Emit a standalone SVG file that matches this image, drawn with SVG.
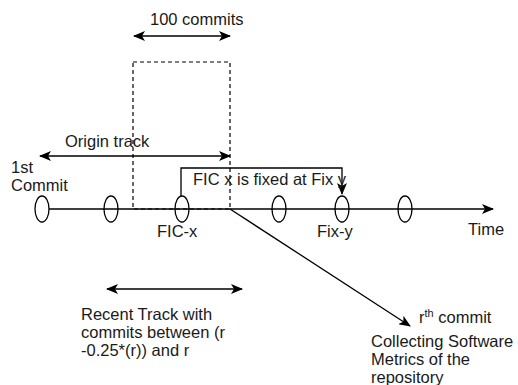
<svg xmlns="http://www.w3.org/2000/svg" width="518" height="385" viewBox="0 0 518 385">
<defs>
<style>
text{font-family:"Liberation Sans",Arial,sans-serif;font-size:16.5px;fill:#1a1a1a}
.ln{stroke:#000;stroke-width:1.3;fill:none}
.el{stroke:#000;stroke-width:1.3;fill:none}
.dash{stroke:#000;stroke-width:1.2;fill:none;stroke-dasharray:4 3}
</style>
<marker id="ah" markerUnits="userSpaceOnUse" markerWidth="12" markerHeight="10" viewBox="0 0 12 10" refX="11" refY="5" orient="auto-start-reverse">
<path d="M0,0 L12,5 L0,10 L3,5 z" fill="#000"/>
</marker>
</defs>
<rect width="518" height="385" fill="#fff"/>
<g id="connectors">
<line class="ln" x1="49" y1="209" x2="493" y2="209" marker-end="url(#ah)"/>
<line class="ln" x1="134" y1="36" x2="230" y2="36" marker-start="url(#ah)" marker-end="url(#ah)"/>
<line class="ln" x1="40" y1="156" x2="230" y2="156" marker-start="url(#ah)" marker-end="url(#ah)"/>
<line class="ln" x1="107" y1="289" x2="242" y2="289" marker-start="url(#ah)" marker-end="url(#ah)"/>
<polyline class="ln" points="181,196 181,168 342,168 342,194" marker-end="url(#ah)"/>
<line class="ln" x1="230" y1="209" x2="410" y2="326" marker-end="url(#ah)"/>
</g>
<g id="window"><rect class="dash" x="133" y="62" width="97" height="147"/></g>
<g id="c1"><ellipse class="el" cx="42" cy="209" rx="7" ry="13"/></g>
<g id="c2"><ellipse class="el" cx="111" cy="209" rx="7" ry="13"/></g>
<g id="fic-x"><ellipse class="el" cx="182" cy="209" rx="7" ry="13"/><text x="157" y="237">FIC-x</text></g>
<g id="c4"><ellipse class="el" cx="279" cy="209" rx="7" ry="13"/></g>
<g id="fix-y"><ellipse class="el" cx="342" cy="209" rx="7" ry="13"/><text x="317" y="237">Fix-y</text></g>
<g id="c6"><ellipse class="el" cx="405" cy="209" rx="7" ry="13"/></g>
<g id="labels">
<text x="150" y="25">100 commits</text>
<text x="65" y="147">Origin track</text>
<text x="11" y="173">1st</text>
<text x="11" y="191">Commit</text>
<text x="193" y="185">FIC x is fixed at Fix y</text>
<text x="468" y="235">Time</text>
<text x="81" y="320">Recent Track with</text>
<text x="81" y="338">commits between (r</text>
<text x="81" y="356">-0.25*(r)) and r</text>
<text x="419" y="323">r<tspan font-size="11" dy="-6">th</tspan><tspan dy="6"> commit</tspan></text>
<text x="371" y="347">Collecting Software</text>
<text x="371" y="365">Metrics of the</text>
<text x="371" y="383">repository</text>
</g>
</svg>
